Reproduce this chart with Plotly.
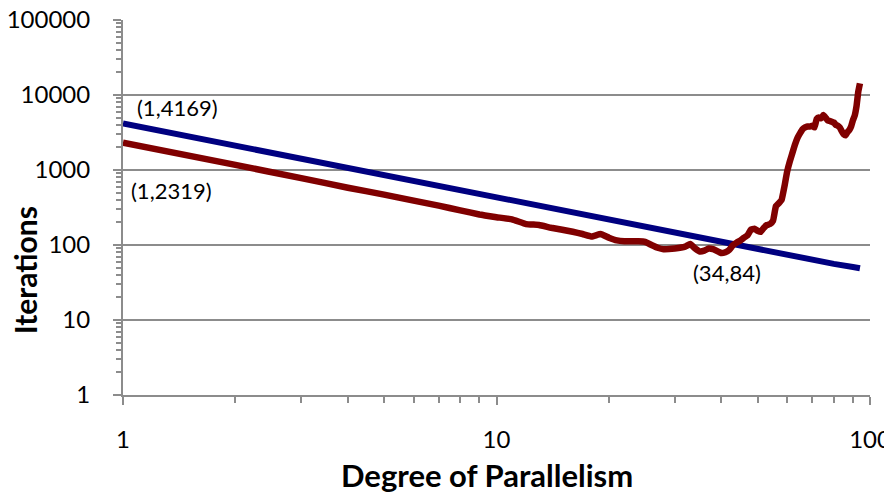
import math
import plotly.graph_objects as go

# Blue series (x, iterations)
blue_x = [1, 2, 3, 4, 5, 6, 8, 10, 12, 15, 20, 25, 30, 35, 40, 45, 50, 60, 70, 80, 90, 94]
blue_y = [4169, 2100, 1400, 1050, 845, 705, 530, 425, 355, 285, 215, 172, 144, 124, 108, 97, 88, 74, 64, 56, 51, 49]

# Red series (x, iterations)
red_x = [1, 2, 3, 4, 5, 6, 7, 8, 9, 10, 11, 12, 13, 14, 15, 16, 17, 18, 19, 20,
         21, 22, 24, 25, 26, 27, 28, 30, 32, 33, 34, 35, 36, 37, 38, 40, 41, 42, 43, 44,
         45, 46, 47, 48, 49, 50, 51, 52, 53, 54, 55, 56, 57, 58, 59, 60, 61, 62, 63, 64,
         65, 66, 67, 68, 69, 70, 71, 72, 73, 74, 75, 76, 77, 78, 79, 80, 81, 82, 83, 84,
         85, 86, 87, 88, 89, 90, 91, 92, 93, 94]
red_y = [2319, 1170, 780, 580, 470, 390, 335, 290, 255, 235, 220, 190, 185, 170, 160, 150, 140, 130, 140, 125,
         115, 112, 112, 110, 100, 92, 88, 90, 95, 103, 90, 82, 84, 90, 88, 78, 80, 86, 100, 108,
         115, 125, 135, 160, 165, 155, 150, 170, 185, 190, 210, 330, 360, 400, 600, 950, 1300, 1700, 2200, 2700,
         3100, 3500, 3700, 3800, 3800, 3900, 3700, 4800, 5000, 4900, 5400, 5000, 4600, 4500, 4400, 4300, 4000, 3900, 3700, 3300,
         3000, 2900, 3200, 3400, 3800, 4600, 5300, 7000, 11000, 14300]

y_ticks = [1, 10, 100, 1000, 10000, 100000]
y_tick_text = ["1", "10", "100", "1000", "10000", "100000"]
x_ticks = [1, 10, 100]
x_tick_text = ["1", "10", "100"]
x_minor = [2, 3, 4, 5, 6, 7, 8, 9, 20, 30, 40, 50, 60, 70, 80, 90]
y_minor = [m * 10 ** e for e in range(5) for m in range(2, 10)]

labels = [("(1,4169)", 1.40, 6714), ("(1,2319)", 1.345, 541), ("(34,84)", 41.4, 43.6)]

FONT = "Lato"
GRID = "#8c8c8c"

fig = go.Figure()
fig.add_trace(go.Scatter(x=blue_x, y=blue_y, mode="lines",
                         line=dict(color="#000080", width=6), showlegend=False))
fig.add_trace(go.Scatter(x=red_x, y=red_y, mode="lines",
                         line=dict(color="#800000", width=6.5, shape="spline", smoothing=0.3),
                         showlegend=False))

for txt, lx, ly in labels:
    fig.add_annotation(x=math.log10(lx), y=math.log10(ly),
                       text=txt, showarrow=False, xref="x", yref="y",
                       font=dict(family=FONT, size=22, color="#000000"))

fig.add_annotation(text="<b>Iterations</b>", xref="paper", yref="paper",
                   x=-0.131, y=0.333, textangle=-90, showarrow=False,
                   xanchor="center", yanchor="middle",
                   font=dict(family=FONT, size=30, color="#000000"))
fig.add_annotation(text="<b>Degree of Parallelism</b>", xref="paper", yref="paper",
                   x=0.487, y=-0.214, showarrow=False,
                   xanchor="center", yanchor="middle",
                   font=dict(family=FONT, size=31, color="#000000"))

fig.update_xaxes(type="log", range=[0, 2], tickvals=x_ticks, ticktext=x_tick_text,
                 showgrid=False, showline=True, linecolor=GRID, linewidth=2,
                 ticks="outside", ticklen=8, tickcolor=GRID, tickwidth=1.5,
                 ticklabelstandoff=14, automargin=False, ticklabeloverflow="allow",
                 minor=dict(tickvals=x_minor, ticks="outside", ticklen=6,
                            tickcolor=GRID, tickwidth=1.5, showgrid=False),
                 tickfont=dict(family=FONT, size=24, color="#000000"), zeroline=False)
fig.update_yaxes(type="log", range=[0, 5], tickvals=y_ticks, ticktext=y_tick_text,
                 showgrid=True, gridcolor=GRID, gridwidth=1.5,
                 showline=True, linecolor=GRID, linewidth=2,
                 ticks="outside", ticklen=8, tickcolor=GRID, tickwidth=1.5,
                 ticklabelstandoff=18, automargin=False, ticklabeloverflow="allow",
                 minor=dict(tickvals=y_minor, ticks="outside", ticklen=5,
                            tickcolor=GRID, tickwidth=1.5, showgrid=False),
                 tickfont=dict(family=FONT, size=24, color="#000000"), zeroline=False)

# page body has an 8px margin, so the figure is sized/offset to compensate
fig.update_layout(width=884, height=486, margin=dict(l=115, r=22, t=12, b=99),
                  plot_bgcolor="white", paper_bgcolor="white")

fig.write_html("out.html")
